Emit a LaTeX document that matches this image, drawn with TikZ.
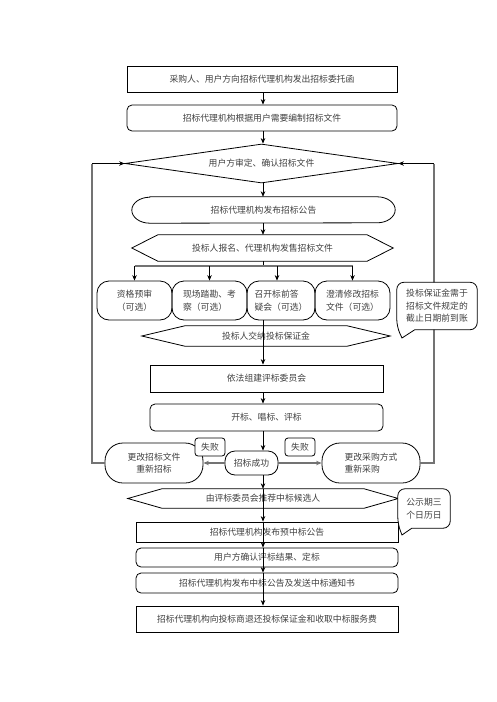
\documentclass[tikz,border=0pt]{standalone}
\usepackage{fontspec}
\setmainfont{Noto Sans CJK SC}
\usetikzlibrary{arrows.meta,calc,shapes.geometric}
\newcommand\hexpath[2]{\draw[line width=0.8pt] (#1.west) -- ([xshift=#2]#1.north west) -- ([xshift=-#2]#1.north east) -- (#1.east) -- ([xshift=-#2]#1.south east) -- ([xshift=#2]#1.south west) -- cycle;}
\begin{document}
\begin{tikzpicture}[x=1pt,y=-1pt,
  every node/.style={font=\fontsize{8.8}{12.5}\selectfont, text=black!75, inner sep=0pt},
  rectbox/.style={draw, line width=0.8pt},
  rbox/.style={draw, line width=0.8pt, rounded corners=5pt},
  sbox/.style={draw, line width=0.8pt, rounded corners=12pt},
  ar/.style={-{Stealth[length=5.5pt,width=4.5pt]}, line width=0.7pt},
  gl/.style={draw=black!55, line width=1.2pt},
  ln/.style={line width=0.7pt}]
\useasboundingbox (0,0) rectangle (496,702);
\fill[white] (0,0) rectangle (496,702);
\coordinate (sp) at (263,0);
\coordinate (fl) at (92,0);
\coordinate (fr) at (434,0);
\coordinate (br) at (263,266);

\node[rectbox, minimum width=270, minimum height=26] (b1) at (262,79) {采购人、用户方向招标代理机构发出招标委托函};
\node[rbox, minimum width=270, minimum height=26] (b2) at (262,118) {招标代理机构根据用户需要编制招标文件};
\node[diamond, draw, line width=0.8pt, aspect=7, minimum width=273, minimum height=39] (d1) at (261.5,163.5) {用户方审定、确认招标文件};

\node[minimum width=263, minimum height=26] (e1) at (263.5,210) {招标代理机构发布招标公告};
\draw[line width=0.8pt] ([xshift=18pt]e1.north west) -- ([xshift=-18pt]e1.north east) arc[start angle=90,end angle=-90,x radius=18pt,y radius=13pt] -- ([xshift=18pt]e1.south west) arc[start angle=270,end angle=90,x radius=18pt,y radius=13pt] -- cycle;

\node[minimum width=261, minimum height=26] (h1) at (262.5,248) {投标人报名、代理机构发售招标文件};
\hexpath{h1}{26pt}

\node[sbox, minimum width=75, minimum height=39, align=center] (ba) at (134.5,300.5) {资格预审\\（可选）};
\node[sbox, minimum width=75, minimum height=39, align=left] (bb) at (209.5,300.5) {现场踏勘、考\\察（可选）};
\node[sbox, minimum width=68, minimum height=39, align=left] (bc) at (281,300.5) {召开标前答\\疑会（可选）};
\node[sbox, minimum width=75, minimum height=39, align=left] (bd) at (352.5,300.5) {澄清修改招标\\文件（可选）};
\coordinate (cx) at ([xshift=-4pt]bc.north);

\node[minimum width=248, minimum height=20] (h2) at (266,336) {投标人交纳投标保证金};
\hexpath{h2}{43pt}

\node[rectbox, minimum width=233, minimum height=27] (b10) at (266.5,378.5) {依法组建评标委员会};
\node[rbox, minimum width=233, minimum height=27] (b11) at (266.5,417.5) {开标、唱标、评标};

\node[draw, line width=0.8pt, rounded corners=10pt, minimum width=53, minimum height=24] (cg) at (251.5,463) {招标成功};
\node[draw, line width=0.8pt, rounded corners=18pt, minimum width=98, minimum height=40, align=center] (lb) at (154,463) {更改招标文件\\重新招标};
\node[draw, line width=0.8pt, rounded corners=18pt, minimum width=98, minimum height=40, align=left] (rb) at (371,463) {更改采购方式\\重新采购};
\node[draw, fill=white, line width=0.8pt, rounded corners=3pt, minimum width=30, minimum height=18] (f1) at (210,447) {失败};
\node[draw, fill=white, line width=0.8pt, rounded corners=3pt, minimum width=30, minimum height=18] (f2) at (300,447) {失败};

\node[minimum width=270, minimum height=19] (h3) at (263,498.5) {由评标委员会推荐中标候选人};
\hexpath{h3}{34pt}

\node[rectbox, minimum width=262, minimum height=20] (b18) at (267,532) {招标代理机构发布预中标公告};
\node[rbox, minimum width=262, minimum height=19] (b19) at (267,557.5) {用户方确认评标结果、定标};
\node[rbox, minimum width=262, minimum height=20] (b20) at (267,583) {招标代理机构发布中标公告及发送中标通知书};
\node[rectbox, minimum width=262, minimum height=26] (b21) at (267,619) {招标代理机构向投标商退还投标保证金和收取中标服务费};

% spine
\draw[ar] (b1.south -| sp) -- (b2.north -| sp);
\draw[ar] (b2.south -| sp) -- (d1.north -| sp);
\draw[ar] (d1.south -| sp) -- (e1.north -| sp);
\draw[ar] (e1.south -| sp) -- (h1.north -| sp);
\draw[ln] (h1.south -| sp) -- (br);
\draw[gl] (ba.north |- br) -- (bd.north |- br);
\draw[ar] (ba.north |- br) -- (ba.north);
\draw[ar] (bb.north |- br) -- (bb.north);
\draw[ar] (cx |- br) -- (cx);
\draw[ar] (bd.north |- br) -- (bd.north);
\draw[ar] (bc.south -| sp) -- (b10.north -| sp);
\draw[ar] (b10.south -| sp) -- (b11.north -| sp);
\draw[ar] (b11.south -| sp) -- (cg.north -| sp);
\draw[ar, gl] (cg.west) -- (lb.east);
\draw[ar, gl] (cg.east) -- (rb.west);
\draw[ar] (cg.south -| sp) -- (h3.north -| sp);
\draw[ar] (h3.north -| sp) -- (b18.north -| sp);
\draw[ar] (b18.north -| sp) -- (b19.north -| sp);
\draw[ar] (b19.north -| sp) -- (b20.north -| sp);
\draw[ar] (b20.north -| sp) -- (b21.north -| sp);

% feedback
\draw[gl] (lb.west) -| (fl |- d1.west);
\draw[ar] (fl |- d1.west) -- (d1.west);
\draw[gl] (rb.east) -| (fr |- d1.east);
\draw[ar] (fr |- d1.east) -- (d1.east);

% callouts
\path node[minimum width=80, minimum height=47] (co1) at (437,306) {};
\coordinate (t1) at (402,338);
\draw[line width=0.8pt, fill=white] ([xshift=18pt]co1.south west) [rounded corners=7pt] -- (co1.south east) -- (co1.north east) -- (co1.north west) -- ([yshift=3pt]co1.south west) [sharp corners] -- (t1) -- cycle;
\node[align=left] at (co1.center) {投标保证金需于\\招标文件规定的\\截止日期前到账};

\path node[minimum width=52, minimum height=39] (co2) at (424,508.5) {};
\coordinate (t2) at (402,535);
\draw[line width=0.8pt, fill=white] ([xshift=14pt]co2.south west) [rounded corners=7pt] -- (co2.south east) -- (co2.north east) -- (co2.north west) -- ([yshift=4pt]co2.south west) [sharp corners] -- (t2) -- cycle;
\node[align=left] at (co2.center) {公示期三\\个日历日};
\end{tikzpicture}
\end{document}
